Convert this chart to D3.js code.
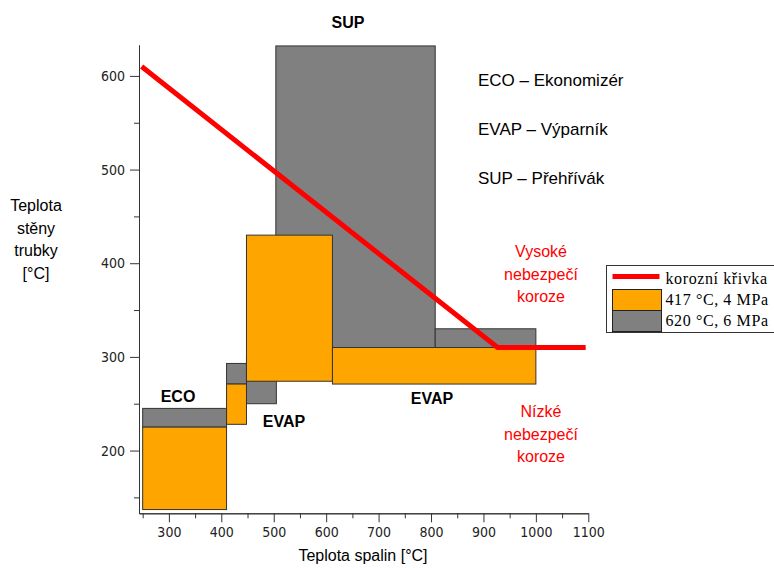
<!DOCTYPE html>
<html>
<head>
<meta charset="utf-8">
<script src="https://cdn.jsdelivr.net/npm/d3@7"></script>
<style>
  body { margin: 0; background: #fff; }
  text { font-family: "Liberation Sans", Arial, sans-serif; }
</style>
</head>
<body>
<div id="chart"></div>
<script>
// Chart size
const width = 774;
const height = 568;

// Tick values
const xMajor = [300, 400, 500, 600, 700, 800, 900, 1000, 1100];
const xMinor = [250, 350, 450, 550, 650, 750, 850, 950, 1050];
const yMajor = [200, 300, 400, 500, 600];
const yMinor = [150, 250, 350, 450, 550];

// Boxes [x0, x1, y0, y1] for each state
const grayBoxes = [      // 620 °C, 6 MPa
    [250, 410, 225, 245],
    [410, 448, 271, 293],
    [448, 505, 250, 300],
    [504, 808, 310, 632],
    [808, 1000, 310, 330]
];
const orangeBoxes = [    // 417 °C, 4 MPa
    [250, 410, 137, 225],
    [410, 448, 228, 271],
    [448, 612, 274, 430],
    [612, 1000, 271, 310]
];

// Corrosion curve
const curveX = [248, 927, 1095];
const curveY = [610, 310, 310];

const legendLabels = ["korozní křivka", "417 °C, 4 MPa", "620 °C, 6 MPa"];
const sectionNotes = ["ECO – Ekonomizér", "EVAP – Výparník", "SUP – Přehřívák"];

const svg = d3.select("#chart").append("svg")
    .attr("width", width)
    .attr("height", height);

// Scales
const x = d3.scaleLinear().domain([243, 1100]).range([139, 588.3]);
const y = d3.scaleLinear().domain([133, 633]).range([513.3, 45]);

// Boxes: gray first, orange on top
function drawBoxes(boxes, color) {
    svg.append("g").selectAll("rect")
        .data(boxes)
        .join("rect")
        .attr("x", d => x(d[0]))
        .attr("y", d => y(d[3]))
        .attr("width", d => x(d[1]) - x(d[0]))
        .attr("height", d => y(d[2]) - y(d[3]))
        .attr("fill", color)
        .attr("stroke", "#333")
        .attr("stroke-width", 1);
}
drawBoxes(grayBoxes, "#808080");
drawBoxes(orangeBoxes, "#ffa500");

// Red line
const line = d3.line().x(d => x(d[0])).y(d => y(d[1]));
svg.append("path")
    .datum(curveX.map((v, i) => [v, curveY[i]]))
    .attr("d", line)
    .attr("fill", "none")
    .attr("stroke", "#ff0000")
    .attr("stroke-width", 5);

// Axes
function styleAxis(g) {
    g.selectAll("path, line").attr("stroke", "#333");
    g.selectAll("text")
        .attr("fill", "#222")
        .style("font-family", "'DejaVu Sans Condensed', 'Liberation Sans', sans-serif")
        .style("font-size", "14px");
}
svg.append("g")
    .attr("transform", `translate(0,${y(133)})`)
    .call(d3.axisBottom(x).tickValues(xMinor).tickSize(5).tickSizeOuter(0).tickFormat(""))
    .call(styleAxis);
svg.append("g")
    .attr("transform", `translate(0,${y(133)})`)
    .call(d3.axisBottom(x).tickValues(xMajor).tickSize(9).tickSizeOuter(0).tickPadding(5).tickFormat(d3.format("d")))
    .call(styleAxis);
svg.append("g")
    .attr("transform", `translate(${x(243)},0)`)
    .call(d3.axisLeft(y).tickValues(yMinor).tickSize(5).tickSizeOuter(0).tickFormat(""))
    .call(styleAxis);
svg.append("g")
    .attr("transform", `translate(${x(243)},0)`)
    .call(d3.axisLeft(y).tickValues(yMajor).tickSize(9).tickSizeOuter(0).tickPadding(5).tickFormat(d3.format("d")))
    .call(styleAxis);

// Axis titles
svg.append("text")
    .attr("x", 363).attr("y", 561)
    .attr("text-anchor", "middle")
    .style("font-size", "16px")
    .text("Teplota spalin [°C]");

["Teplota", "stěny", "trubky", "[°C]"].forEach((t, i) => {
    svg.append("text")
        .attr("x", 36).attr("y", 211 + i * 22.5)
        .attr("text-anchor", "middle")
        .style("font-size", "16px")
        .text(t);
});

// Section labels
const bold = [["SUP", 348, 28], ["ECO", 178, 402], ["EVAP", 284, 427], ["EVAP", 432, 404]];
bold.forEach(([t, px, py]) => {
    svg.append("text")
        .attr("x", px).attr("y", py)
        .attr("text-anchor", "middle")
        .style("font-size", "16px")
        .style("font-weight", "bold")
        .text(t);
});

sectionNotes.forEach((t, i) => {
    svg.append("text")
        .attr("x", 478).attr("y", 86 + i * 49)
        .style("font-size", "17px")
        .text(t);
});

// Risk notes
[["Vysoké", "nebezpečí", "koroze"], ["Nízké", "nebezpečí", "koroze"]].forEach((lines, k) => {
    lines.forEach((t, i) => {
        svg.append("text")
            .attr("x", 541).attr("y", (k ? 417 : 257) + i * 22.5)
            .attr("text-anchor", "middle")
            .attr("fill", "#ff0000")
            .style("font-size", "16px")
            .text(t);
    });
});

// Legend
const lg = svg.append("g").attr("transform", "translate(606.5,265.5)");
lg.append("rect")
    .attr("width", 180).attr("height", 67)
    .attr("fill", "#fff").attr("stroke", "#333");
lg.append("line")
    .attr("x1", 6).attr("x2", 53).attr("y1", 11).attr("y2", 11)
    .attr("stroke", "#ff0000").attr("stroke-width", 5);
lg.append("rect").attr("x", 6).attr("y", 24).attr("width", 49).attr("height", 21)
    .attr("fill", "#ffa500").attr("stroke", "#222");
lg.append("rect").attr("x", 6).attr("y", 45).attr("width", 49).attr("height", 21)
    .attr("fill", "#808080").attr("stroke", "#222");
legendLabels.forEach((t, i) => {
    lg.append("text")
        .attr("x", 59).attr("y", 18 + i * 21)
        .style("font-family", "'Liberation Serif', 'Times New Roman', serif")
        .style("font-size", "16px")
        .style("letter-spacing", "0.6px")
        .text(t);
});
</script>
</body>
</html>
